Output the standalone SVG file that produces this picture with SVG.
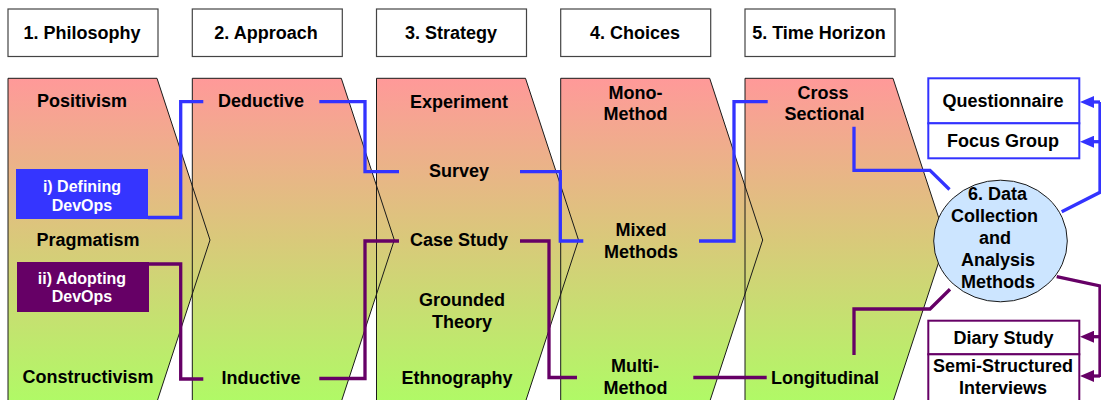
<svg xmlns="http://www.w3.org/2000/svg" width="1101" height="400" viewBox="0 0 1101 400">
  <defs>
    <linearGradient id="stage" x1="0" y1="0" x2="0" y2="1">
      <stop offset="0" stop-color="#FF9999"/>
      <stop offset="0.5" stop-color="#D9C97A"/>
      <stop offset="1" stop-color="#B0FA66"/>
    </linearGradient>
    <marker id="arrowBlue" viewBox="0 0 14 12" refX="8" refY="6" markerWidth="14" markerHeight="12" markerUnits="userSpaceOnUse" orient="auto">
      <path d="M0,0 L14,6 L0,12 z" fill="#3333FF"/>
    </marker>
    <marker id="arrowPurple" viewBox="0 0 14 12" refX="8" refY="6" markerWidth="14" markerHeight="12" markerUnits="userSpaceOnUse" orient="auto">
      <path d="M0,0 L14,6 L0,12 z" fill="#660066"/>
    </marker>
  </defs>
  <style>
    text { font-family: "Liberation Sans", Arial, sans-serif; font-weight: bold; font-size: 18px; fill: #000; text-anchor: middle; }
    .white { fill: #fff; font-size: 16px; }
    .header { fill: #fff; stroke: #444; stroke-width: 1.2; }
    .stage { fill: url(#stage); stroke: none; }
    .outline { fill: none; stroke: #1a1a1a; stroke-width: 1; }
    .blue { fill: none; stroke: #3333FF; stroke-width: 3.3; }
    .purple { fill: none; stroke: #660066; stroke-width: 3.3; }
    .boxBlue { fill: #fff; stroke: #3333FF; stroke-width: 2; }
    .boxPurple { fill: #fff; stroke: #660066; stroke-width: 2; }
  </style>

  <rect width="1101" height="400" fill="#fff"/>

  <!-- column headers -->
  <g id="header-philosophy"><rect class="header" x="8" y="9" width="150" height="47.5"/><text x="82" y="39">1. Philosophy</text></g>
  <g id="header-approach"><rect class="header" x="192.3" y="9" width="150" height="47.5"/><text x="266" y="39">2. Approach</text></g>
  <g id="header-strategy"><rect class="header" x="376.5" y="9" width="150" height="47.5"/><text x="451" y="39">3. Strategy</text></g>
  <g id="header-choices"><rect class="header" x="560.7" y="9" width="150" height="47.5"/><text x="635" y="39">4. Choices</text></g>
  <g id="header-time"><rect class="header" x="745" y="9" width="150" height="47.5"/><text x="819" y="39">5. Time Horizon</text></g>

  <!-- chevron fills -->
  <g id="stage-fills">
    <polygon class="stage" points="8,78.3 157,78.3 210,240 157,401.7 8,401.7"/>
    <polygon class="stage" points="192.3,78.3 341.3,78.3 394.3,240 341.3,401.7 192.3,401.7"/>
    <polygon class="stage" points="376.5,78.3 525.5,78.3 578.5,240 525.5,401.7 376.5,401.7"/>
    <polygon class="stage" points="560.7,78.3 709.7,78.3 762.7,240 709.7,401.7 560.7,401.7"/>
    <polygon class="stage" points="745,78.3 893,78.3 946,240 893,401.7 745,401.7"/>
  </g>

  <!-- chevron outlines -->
  <g id="stage-outlines">
    <polygon class="outline" points="8,78.3 157,78.3 210,240 157,401.7 8,401.7"/>
    <polygon class="outline" points="192.3,78.3 341.3,78.3 394.3,240 341.3,401.7 192.3,401.7"/>
    <polygon class="outline" points="376.5,78.3 525.5,78.3 578.5,240 525.5,401.7 376.5,401.7"/>
    <polygon class="outline" points="560.7,78.3 709.7,78.3 762.7,240 709.7,401.7 560.7,401.7"/>
    <polygon class="outline" points="745,78.3 893,78.3 946,240 893,401.7 745,401.7"/>
  </g>

  <!-- stage 1: philosophy -->
  <g id="philosophy">
    <text x="82" y="107">Positivism</text>
    <text x="88" y="246">Pragmatism</text>
    <text x="88" y="383">Constructivism</text>
  </g>

  <!-- stage 2: approach -->
  <g id="approach">
    <text x="261" y="107">Deductive</text>
    <text x="261" y="384">Inductive</text>
  </g>

  <!-- stage 3: strategy -->
  <g id="strategy">
    <text x="459" y="107.5">Experiment</text>
    <text x="459" y="177">Survey</text>
    <text x="459" y="246">Case Study</text>
    <text x="462" y="306">Grounded</text>
    <text x="462" y="328">Theory</text>
    <text x="457" y="383.5">Ethnography</text>
  </g>

  <!-- stage 4: choices -->
  <g id="choices">
    <text x="635.5" y="98.5">Mono-</text>
    <text x="635.5" y="120">Method</text>
    <text x="641" y="236">Mixed</text>
    <text x="641" y="258">Methods</text>
    <text x="635" y="372">Multi-</text>
    <text x="635.5" y="394">Method</text>
  </g>

  <!-- stage 5: time horizon -->
  <g id="time-horizon">
    <text x="823" y="98.5">Cross</text>
    <text x="824.5" y="120">Sectional</text>
    <text x="825" y="383.5">Longitudinal</text>
  </g>

  <!-- connectors -->
  <g id="connectors">
    <path class="blue" d="M148,217.5 H180.7 V101.7 H203.3"/>
    <path class="blue" d="M319.3,101.7 H365 V171.7 H399"/>
    <path class="blue" d="M520,171.7 H560.3 V241 H583.3"/>
    <path class="blue" d="M699,241 H734 V101.7 H767.7"/>
    <path class="blue" d="M854,126.7 V170.3 H930 L949.5,189.5"/>
    <path class="blue" d="M1061.7,211.7 L1100,192.3 V102"/>
    <path class="blue" d="M1100,102 H1086" marker-end="url(#arrowBlue)"/>
    <path class="blue" d="M1100,141.7 H1086" marker-end="url(#arrowBlue)"/>

    <path class="purple" d="M148,264 H180.7 V379 H203.3"/>
    <path class="purple" d="M319.3,378.5 H365 V241 H399"/>
    <path class="purple" d="M520,241 H549 V377.5 H577"/>
    <path class="purple" d="M693.3,377.5 H766.7"/>
    <path class="purple" d="M854,355 V309 H930 L950,289.3"/>
    <path class="purple" d="M1056.7,276.7 L1100,286 V377"/>
    <path class="purple" d="M1100,336.7 H1086" marker-end="url(#arrowPurple)"/>
    <path class="purple" d="M1100,376 H1086" marker-end="url(#arrowPurple)"/>
  </g>

  <!-- research focus boxes -->
  <g id="defining-devops">
    <rect x="16" y="169" width="132" height="50" fill="#3535FF"/>
    <text class="white" x="82" y="192.3">i) Defining</text>
    <text class="white" x="82" y="211">DevOps</text>
  </g>
  <g id="adopting-devops">
    <rect x="17" y="262" width="132" height="50" fill="#660066"/>
    <text class="white" x="82" y="284">ii) Adopting</text>
    <text class="white" x="82" y="302">DevOps</text>
  </g>

  <!-- central methods node -->
  <g id="data-collection">
    <ellipse cx="1000.5" cy="241" rx="66.8" ry="60.8" fill="#CCE5FF" stroke="#1a1a1a" stroke-width="1"/>
    <text x="997.5" y="200">6. Data</text>
    <text x="994.5" y="222">Collection</text>
    <text x="995" y="244">and</text>
    <text x="998" y="266">Analysis</text>
    <text x="998" y="287.5">Methods</text>
  </g>

  <!-- method boxes -->
  <g id="questionnaire">
    <rect class="boxBlue" x="928.3" y="78.3" width="151" height="45"/>
    <text x="1003" y="107">Questionnaire</text>
  </g>
  <g id="focus-group">
    <rect class="boxBlue" x="928.3" y="123.3" width="151" height="35"/>
    <text x="1003" y="147">Focus Group</text>
  </g>
  <g id="diary-study">
    <rect class="boxPurple" x="928.3" y="320.7" width="151" height="33.6"/>
    <text x="1003.5" y="344">Diary Study</text>
  </g>
  <g id="semi-structured">
    <rect class="boxPurple" x="928.3" y="354.3" width="151" height="48"/>
    <text x="1003" y="372">Semi-Structured</text>
    <text x="1003" y="393.5">Interviews</text>
  </g>
</svg>
